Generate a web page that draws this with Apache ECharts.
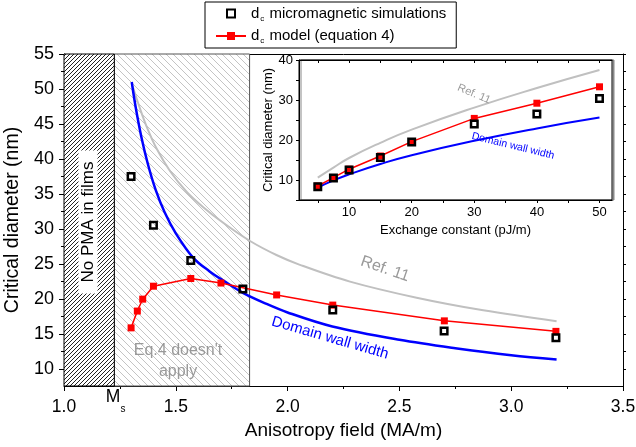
<!DOCTYPE html>
<html><head><meta charset="utf-8">
<script src="https://cdn.jsdelivr.net/npm/echarts@6/dist/echarts.min.js"></script>
<style>html,body{margin:0;padding:0;background:#fff}#c{width:636px;height:447px}</style>
</head><body><div id="c"></div>
<script>
// ---- main chart data (Anisotropy field, MA/m -> critical diameter, nm)
const kModel = [1.30, 1.328, 1.352, 1.40, 1.567, 1.702, 1.951, 2.202, 2.701, 3.20];
const dcModel = [15.9, 18.3, 20.0, 21.85, 22.95, 22.3, 20.6, 19.15, 16.9, 15.4];
const kSim = [1.30, 1.40, 1.567, 1.80, 2.202, 2.70, 3.20];
const dcSim = [37.5, 30.55, 25.5, 21.45, 18.45, 15.45, 14.5];
const kWall = [1.303, 1.32, 1.345, 1.375, 1.41, 1.45, 1.50, 1.578, 1.65, 1.72, 1.80, 1.90, 2.0, 2.2, 2.5, 2.75, 3.0, 3.203];
const wallWidth = [51.0, 47.5, 43.3, 39.3, 35.6, 32.4, 29.4, 25.9, 24.0, 22.5, 20.9, 19.4, 18.1, 16.1, 14.2, 13.0, 12.0, 11.4];
const kRef = [1.307, 1.34, 1.37, 1.414, 1.474, 1.549, 1.62, 1.712, 1.832, 1.95, 2.055, 2.279, 2.577, 2.875, 3.203];
const ref11 = [50.4, 47.2, 44.6, 41.5, 38.3, 35.3, 33.2, 30.9, 28.3, 26.3, 24.9, 22.5, 20.2, 18.4, 16.85];
const Ms = 1.225;         // no PMA below this
const eq4Limit = 1.83;    // Eq.4 doesn't apply below this
const mainYMajor = [10, 15, 20, 25, 30, 35, 40, 45, 50, 55];
const mainYMinor = [12.5, 17.5, 22.5, 27.5, 32.5, 37.5, 42.5, 47.5, 52.5];

// ---- inset data (Exchange constant, pJ/m -> critical diameter, nm)
const exchange = [5, 7.5, 10, 15, 20, 30, 40, 50];
const insetModel = [8.5, 10.6, 12.7, 16.0, 19.6, 25.4, 29.2, 33.3];
const insetSim = [8.3, 10.5, 12.5, 15.6, 19.5, 24.0, 26.5, 30.4];
const insetWall = [8.1, 9.9, 11.4, 14.0, 16.2, 19.8, 22.9, 25.6];
const insetRef = [10.6, 13.1, 15.5, 19.3, 22.6, 28.1, 33.0, 37.5];
const insetXLabels = [10, 20, 30, 40, 50];
const insetXTicks = [5, 10, 15, 20, 25, 30, 35, 40, 45, 50];
const insetYLabels = [10, 20, 30, 40];

const zip = (a, b) => a.map((v, i) => [v, b[i]]);
const FONT = 'Liberation Sans, Arial, sans-serif';

function hatch(size, color, lw, slash) {
  const c = document.createElement('canvas');
  c.width = c.height = size;
  const g = c.getContext('2d');
  g.fillStyle = '#fff'; g.fillRect(0, 0, size, size);
  g.strokeStyle = color; g.lineWidth = lw; g.beginPath();
  if (slash) {
    g.moveTo(-1, size + 1); g.lineTo(size + 1, -1);
    g.moveTo(-1, 1); g.lineTo(1, -1);
    g.moveTo(size - 1, size + 1); g.lineTo(size + 1, size - 1);
  } else {
    g.moveTo(-1, -1); g.lineTo(size + 1, size + 1);
    g.moveTo(size - 1, -1); g.lineTo(size + 1, 1);
    g.moveTo(-1, size - 1); g.lineTo(1, size + 1);
  }
  g.stroke();
  return c;
}
const darkHatch = { image: hatch(4, '#222', 1, true), repeat: 'repeat' };
const lightHatch = { image: hatch(7, '#bdbdbd', 0.9, false), repeat: 'repeat' };

const chart = echarts.init(document.getElementById('c'), null, { renderer: 'canvas' });
const black = '#000';
const simStyle = { color: 'rgba(0,0,0,0)', borderColor: '#000', borderWidth: 2.5 };

chart.setOption({
  animation: false,
  textStyle: { fontFamily: FONT },
  legend: {
    data: ['sim', 'model'], orient: 'vertical', left: 205, top: 2,
    itemWidth: 30, itemHeight: 10, itemGap: 6, padding: [4, 10, 3, 10],
    borderColor: '#000', borderWidth: 1, backgroundColor: '#fff', selectedMode: false,
    formatter: n => n === 'sim' ? '{a|d}{s|c}{a| micromagnetic simulations}' : '{a|d}{s|c}{a| model (equation 4)}',
    textStyle: {
      color: '#000', fontSize: 15,
      rich: { a: { fontSize: 15, fontFamily: FONT, color: '#000', lineHeight: 17 },
              s: { fontSize: 8, fontFamily: FONT, color: '#000', padding: [10, 1, 0, 1] } }
    }
  },
  grid: [
    { left: 64, top: 54, width: 559, height: 332, outerBoundsMode: 'none', containLabel: false },
    { left: 299, top: 60, width: 313, height: 140, show: true, backgroundColor: '#fff', outerBoundsMode: 'none', containLabel: false,
      borderColor: '#000', borderWidth: 1, shadowColor: '#888', shadowOffsetX: 2, shadowOffsetY: 0, shadowBlur: 0 }
  ],
  xAxis: [
    { gridIndex: 0, type: 'value', min: 1.0, max: 3.5, interval: 0.5, position: 'bottom',
      axisLine: { lineStyle: { color: black, width: 1 } },
      axisTick: { length: 5, lineStyle: { color: black } },
      minorTick: { show: true, splitNumber: 2, length: 3, lineStyle: { color: black } },
      axisLabel: { fontSize: 17.5, color: black, margin: 12, formatter: v => v.toFixed(1) },
      splitLine: { show: false },
      name: 'Anisotropy field (MA/m)', nameLocation: 'middle', nameGap: 32,
      nameTextStyle: { fontSize: 19, color: black } },
    { gridIndex: 0, type: 'value', min: 1.0, max: 3.5, position: 'top',
      axisLine: { show: true, lineStyle: { color: black } }, axisTick: { show: false },
      axisLabel: { show: false }, splitLine: { show: false } },
    { gridIndex: 1, type: 'value', min: 2, max: 52, position: 'bottom',
      axisLine: { lineStyle: { color: black } },
      axisTick: { customValues: insetXTicks, length: 3, lineStyle: { color: black } },
      axisLabel: { customValues: insetXLabels, fontSize: 13, color: black, margin: 6 },
      splitLine: { show: false },
      name: 'Exchange constant (pJ/m)', nameLocation: 'middle', nameGap: 24,
      nameTextStyle: { fontSize: 13, color: black } },
    { gridIndex: 1, type: 'value', min: 2, max: 52, position: 'top',
      axisLine: { show: true, lineStyle: { color: black } },
      axisTick: { customValues: insetXTicks, inside: true, length: 3, lineStyle: { color: black } },
      axisLabel: { show: false }, splitLine: { show: false } }
  ],
  yAxis: [
    { gridIndex: 0, type: 'value', min: 7.6, max: 55, position: 'left',
      axisLine: { show: true, lineStyle: { color: black } },
      axisTick: { show: true, customValues: mainYMajor, length: 5, lineStyle: { color: black } },
      axisLabel: { customValues: mainYMajor, fontSize: 18, color: black, margin: 10 },
      splitLine: { show: false },
      name: 'Critical diameter (nm)', nameLocation: 'middle', nameGap: 38,
      nameTextStyle: { fontSize: 19.5, color: black } },
    { gridIndex: 0, type: 'value', min: 7.6, max: 55, position: 'left',
      axisLine: { show: false },
      axisTick: { show: true, customValues: mainYMinor, length: 3, lineStyle: { color: black } },
      axisLabel: { show: false }, splitLine: { show: false } },
    { gridIndex: 0, type: 'value', min: 7.6, max: 55, position: 'right',
      axisLine: { show: true, lineStyle: { color: black } },
      axisTick: { show: true, customValues: mainYMajor.concat(mainYMinor), length: 3, lineStyle: { color: black } },
      axisLabel: { show: false }, splitLine: { show: false } },
    { gridIndex: 1, type: 'value', min: 5, max: 40, interval: 5, position: 'left',
      axisLine: { show: true, lineStyle: { color: black } },
      axisTick: { length: 3, lineStyle: { color: black } },
      axisLabel: { customValues: insetYLabels, fontSize: 13, color: black, margin: 6 },
      splitLine: { show: false },
      name: 'Critical diameter (nm)', nameLocation: 'middle', nameGap: 23,
      nameTextStyle: { fontSize: 13, color: black } },
    { gridIndex: 1, type: 'value', min: 5, max: 40, position: 'right',
      axisLine: { show: true, lineStyle: { color: '#666', width: 1 } },
      axisTick: { show: false }, axisLabel: { show: false }, splitLine: { show: false } }
  ],
  series: [
    { type: 'line', xAxisIndex: 0, yAxisIndex: 0, data: [], z: 1, silent: true,
      markArea: { silent: true, label: { show: false },
        data: [
          [{ xAxis: Ms, itemStyle: { color: lightHatch, borderColor: '#555', borderWidth: 1 } }, { xAxis: eq4Limit }],
          [{ xAxis: 1.0, itemStyle: { color: darkHatch, borderColor: '#000', borderWidth: 1 } }, { xAxis: Ms }]
        ] } },
    { name: 'ref', type: 'line', xAxisIndex: 0, yAxisIndex: 0, data: zip(kRef, ref11), smooth: 0.35,
      showSymbol: false, lineStyle: { color: '#c0c0c0', width: 2 }, z: 2 },
    { name: 'wall', type: 'line', xAxisIndex: 0, yAxisIndex: 0, data: zip(kWall, wallWidth), smooth: 0.35,
      showSymbol: false, lineStyle: { color: '#0000ff', width: 2.5 }, z: 3 },
    { name: 'model', type: 'line', xAxisIndex: 0, yAxisIndex: 0, data: zip(kModel, dcModel),
      symbol: 'rect', symbolSize: 7, itemStyle: { color: '#ff0000' }, lineStyle: { color: '#ff0000', width: 1.5 }, z: 4 },
    { name: 'sim', type: 'line', xAxisIndex: 0, yAxisIndex: 0, data: zip(kSim, dcSim),
      symbol: 'rect', symbolSize: 6.5, showAllSymbol: true, itemStyle: simStyle,
      lineStyle: { width: 0, opacity: 0 }, z: 5 },
    { name: 'ref', type: 'line', xAxisIndex: 2, yAxisIndex: 3, data: zip(exchange, insetRef), smooth: true,
      showSymbol: false, lineStyle: { color: '#c0c0c0', width: 2 }, z: 6 },
    { name: 'wall', type: 'line', xAxisIndex: 2, yAxisIndex: 3, data: zip(exchange, insetWall), smooth: true,
      showSymbol: false, lineStyle: { color: '#0000ff', width: 2 }, z: 6 },
    { name: 'model', type: 'line', xAxisIndex: 2, yAxisIndex: 3, data: zip(exchange, insetModel),
      symbol: 'rect', symbolSize: 7, itemStyle: { color: '#ff0000' }, lineStyle: { color: '#ff0000', width: 1.5 }, z: 7 },
    { name: 'sim', type: 'line', xAxisIndex: 2, yAxisIndex: 3, data: zip(exchange, insetSim),
      symbol: 'rect', symbolSize: 6.5, itemStyle: simStyle, lineStyle: { width: 0, opacity: 0 }, z: 8 }
  ],
  graphic: [
    { type: 'text', x: 88, y: 222, rotation: Math.PI / 2, z: 100,
      style: { text: 'No PMA in films', fontSize: 17, fontFamily: FONT, fill: '#000', align: 'center', verticalAlign: 'middle',
               backgroundColor: '#fff', padding: [1, 11, 1, 11] } },
    { type: 'text', x: 178, y: 361, z: 100,
      style: { text: "Eq.4 doesn't\napply", fontSize: 16, fontFamily: FONT, fill: '#999', align: 'center', verticalAlign: 'middle', lineHeight: 21 } },
    { type: 'text', x: 113, y: 397, z: 100,
      style: { text: 'M', fontSize: 17.5, fontFamily: FONT, fill: '#000', align: 'center', verticalAlign: 'middle' } },
    { type: 'text', x: 123, y: 409, z: 100,
      style: { text: 's', fontSize: 10, fontFamily: FONT, fill: '#000', align: 'center', verticalAlign: 'middle' } },
    { type: 'text', x: 385, y: 269, rotation: -0.33, z: 100,
      style: { text: 'Ref. 11', fontSize: 16, fontFamily: FONT, fill: '#999', align: 'center', verticalAlign: 'middle' } },
    { type: 'text', x: 330, y: 338, rotation: -0.28, z: 100,
      style: { text: 'Domain wall width', fontSize: 15, fontFamily: FONT, fill: '#0000ff', align: 'center', verticalAlign: 'middle' } },
    { type: 'text', x: 474, y: 94, rotation: -0.40, z: 100,
      style: { text: 'Ref. 11', fontSize: 11, fontFamily: FONT, fill: '#999', align: 'center', verticalAlign: 'middle' } },
    { type: 'text', x: 513, y: 146, rotation: -0.24, z: 100,
      style: { text: 'Domain wall width', fontSize: 10.5, fontFamily: FONT, fill: '#0000ff', align: 'center', verticalAlign: 'middle' } }
  ]
});
</script></body></html>
